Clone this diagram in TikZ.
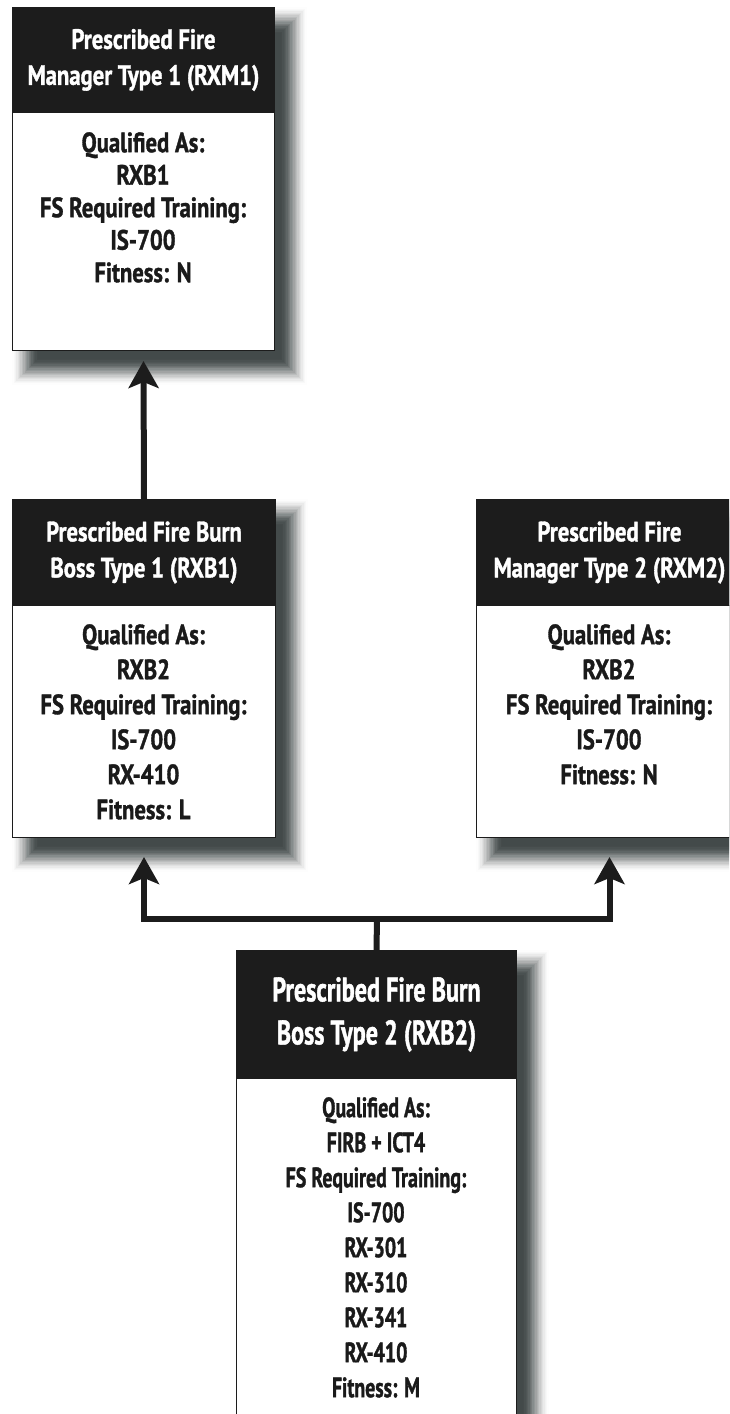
\documentclass[tikz,border=0pt]{standalone}
\usepackage{fontspec}
\setmainfont{PT Sans}
\newfontfamily\boxfont[FakeStretch=0.81,FakeBold=1.2]{PT Sans}
\newfontfamily\bigfont[FakeStretch=0.71,FakeBold=1.2]{PT Sans}
\usetikzlibrary{arrows.meta,calc}
\definecolor{hdrc}{RGB}{28,28,28}
\definecolor{shd}{RGB}{42,50,50}
\definecolor{txt}{RGB}{26,26,26}
\newcommand\dropshadow[4]{%
  \foreach \k/\a in {0/.0397,1/.1013,2/.1379,3/.1544,4/.1570,5/.1523,6/.1435,7/.1329,8/.1218,9/.1104,
                     10/.0995,11/.0889,12/.0785,13/.0685,14/.0586,15/.0487,16/.0388,17/.0285,18/.0177,19/.0062}{%
    \fill[shd,opacity=\a] ({#1+26-\k*1.35},{#2+26-\k*1.35}) rectangle ({#3+7+\k*1.35},{#4+9+\k*1.35});}}
\begin{document}
\begin{tikzpicture}[x=1pt,y=-1pt,
  hdrbox/.style={draw=hdrc,fill=hdrc,line width=1pt,inner sep=0pt,anchor=north west,text=white,align=center},
  bodybox/.style={draw=hdrc,fill=white,line width=1pt,inner sep=0pt,anchor=north west},
  hdrtext/.style={font=\boxfont\bfseries\fontsize{28}{36}\selectfont},
  bighdrtext/.style={font=\bigfont\bfseries\fontsize{34}{43}\selectfont},
  bodytext/.style={font=\boxfont\bfseries\fontsize{28}{35}\selectfont,text=txt,align=center,inner sep=0pt,anchor=north},
  topbodytext/.style={font=\boxfont\bfseries\fontsize{28}{32.5}\selectfont,text=txt,align=center,inner sep=0pt,anchor=north},
  smallbodytext/.style={font=\bigfont\bfseries\fontsize{28}{35}\selectfont,text=txt,align=center,inner sep=0pt,anchor=north},
  conn/.style={draw=hdrc,line width=6pt},
  tip/.tip={Stealth[length=27pt,width=30pt,inset=6pt]}]
\useasboundingbox (0,0) rectangle (729,1414);
\clip (0,0) rectangle (729,1414);
\fill[white] (0,0) rectangle (729,1414);
% shadows
\dropshadow{12}{7}{274}{350}
\dropshadow{12}{499}{275}{837}
\dropshadow{476}{499}{742}{837}
\dropshadow{236}{950}{516}{1440}
% box 1
\node[hdrbox,hdrtext,minimum width=262,minimum height=105] (h1) at (12,7) {Prescribed Fire\\Manager Type 1 (RXM1)};
\node[bodybox,minimum width=262,minimum height=238] (b1) at (12,112) {};
\node[topbodytext] (t1) at (143,132) {Qualified As:\\RXB1\\FS Required Training:\\IS-700\\Fitness: N};
% box 2
\node[hdrbox,hdrtext,minimum width=263,minimum height=106] (h2) at (12,499) {Prescribed Fire Burn\\Boss Type 1 (RXB1)};
\node[bodybox,minimum width=263,minimum height=232] (b2) at (12,605) {};
\node[bodytext] (t2) at (143.5,624) {Qualified As:\\RXB2\\FS Required Training:\\IS-700\\RX-410\\Fitness: L};
% box 3
\node[hdrbox,hdrtext,minimum width=266,minimum height=106] (h3) at (476,499) {Prescribed Fire\\Manager Type 2 (RXM2)};
\node[bodybox,minimum width=266,minimum height=232] (b3) at (476,605) {};
\node[bodytext] (t3) at (609,624) {Qualified As:\\RXB2\\FS Required Training:\\IS-700\\Fitness: N};
% box 4
\node[hdrbox,bighdrtext,minimum width=280,minimum height=128] (h4) at (236,950) {Prescribed Fire Burn\\Boss Type 2 (RXB2)};
\node[bodybox,minimum width=280,minimum height=362] (b4) at (236,1078) {};
\node[smallbodytext] (t4) at (376,1097) {Qualified As:\\FIRB + ICT4\\FS Required Training:\\IS-700\\RX-301\\RX-310\\RX-341\\RX-410\\Fitness: M};
% connectors
\coordinate (J) at (377,919);
\draw[conn,-tip] (h2.north) -- ($(b1.south)+(0,10)$);
\draw[conn] (h4.north) -- (J);
\draw[conn,tip-tip] ($(b2.south)+(0,19)$) |- (J) -| ($(b3.south)+(0,19)$);
\end{tikzpicture}
\end{document}
